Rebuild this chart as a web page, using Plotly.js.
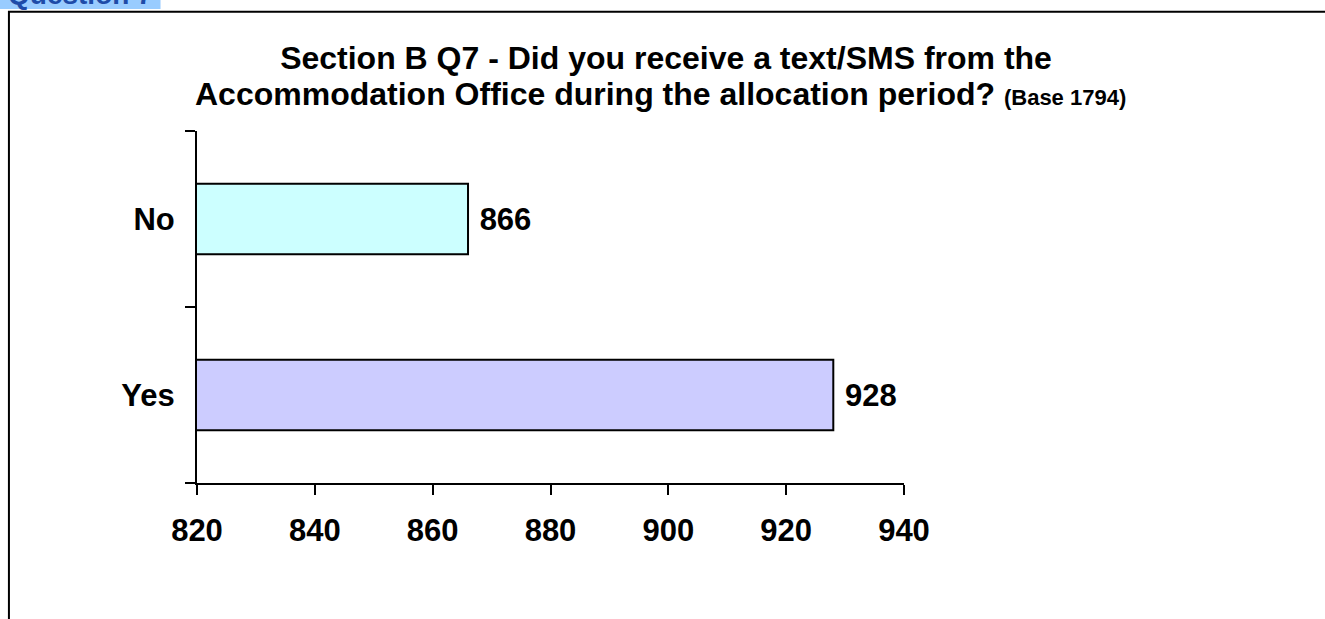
<!DOCTYPE html>
<html>
<head>
<meta charset="utf-8">
<script src="https://cdn.plot.ly/plotly-3.0.1.min.js"></script>
<style>
html,body{margin:0;padding:0;background:#fff;}
#chart{width:1325px;height:619px;}
</style>
</head>
<body>
<div id="chart"></div>
<script>
const categories = ['Yes', 'No'];
const counts = [928, 866];
const barColors = ['#CCCCFF', '#CCFFFF'];
const titleLine1 = 'Section B Q7 - Did you receive a text/SMS from the';
const titleLine2 = 'Accommodation Office during the allocation period?';
const baseNote = '(Base 1794)';
const sectionLabel = 'Question 7';

const FONT = 'Liberation Sans, Arial, Helvetica, sans-serif';

// plot area in px
const L = 196.5, R = 904, T = 130.7, B = 483.5;
const W = R - L, H = B - T;
const px = x => (x - L) / W;
const py = y => (B - y) / H;

const trace = {
  type: 'bar',
  orientation: 'h',
  y: categories,
  x: counts,
  width: 0.4,
  marker: {color: barColors, line: {color: '#000', width: 2}},
  texttemplate: '\u00a0%{x}',
  textposition: 'outside',
  constraintext: 'none',
  cliponaxis: false,
  textfont: {family: FONT, size: 31, color: '#000', weight: 700},
  hoverinfo: 'none'
};

const layout = {
  width: 1325, height: 619,
  margin: {l: L, r: 1325 - R, t: T, b: 619 - B, pad: 0},
  paper_bgcolor: '#fff', plot_bgcolor: '#fff',
  showlegend: false,
  title: {
    text: titleLine1,
    font: {family: FONT, size: 32, color: '#000', weight: 700},
    xref: 'container', x: 666 / 1325, xanchor: 'center',
    yref: 'container', y: 1 - 58 / 619, yanchor: 'middle'
  },
  xaxis: {
    range: [820, 940], dtick: 20, tick0: 820,
    showline: true, linecolor: '#000', linewidth: 2,
    ticks: 'outside', ticklen: 10, tickwidth: 2, tickcolor: '#000',
    showgrid: false, zeroline: false,
    tickfont: {family: FONT, size: 31, color: '#000', weight: 700},
    ticklabelstandoff: 9
  },
  yaxis: {
    type: 'category', categoryorder: 'array', categoryarray: categories,
    range: [-0.5, 1.5],
    showline: true, linecolor: '#000', linewidth: 2,
    ticks: 'outside', ticklen: 10, tickwidth: 2, tickcolor: '#000',
    tickson: 'boundaries',
    showgrid: false, zeroline: false,
    tickfont: {family: FONT, size: 31, color: '#000', weight: 700},
    ticklabelstandoff: 14
  },
  shapes: [
    {type: 'rect', xref: 'paper', yref: 'paper', x0: px(-10), x1: px(160), y0: py(8.3), y1: py(-10),
     fillcolor: '#99CCFF', line: {width: 0}, layer: 'below'},
    {type: 'rect', xref: 'paper', yref: 'paper', x0: px(8.3), x1: px(1360), y0: py(700), y1: py(11.2),
     fillcolor: 'rgba(0,0,0,0)', line: {color: '#000', width: 2}, layer: 'above'}
  ],
  annotations: [
    {text: titleLine2 + ' <span style="font-size:22px">' + baseNote + '</span>',
     xref: 'paper', yref: 'paper', x: px(660), y: py(94), xanchor: 'center', yanchor: 'middle',
     showarrow: false, font: {family: FONT, size: 32, color: '#000', weight: 700}},
    {text: sectionLabel, xref: 'paper', yref: 'paper', x: px(5), y: py(11), xanchor: 'left', yanchor: 'bottom',
     showarrow: false, font: {family: FONT, size: 28, color: '#1E4BA8', weight: 700}}
  ]
};

Plotly.newPlot('chart', [trace], layout, {displayModeBar: false, staticPlot: true});
</script>
</body>
</html>
